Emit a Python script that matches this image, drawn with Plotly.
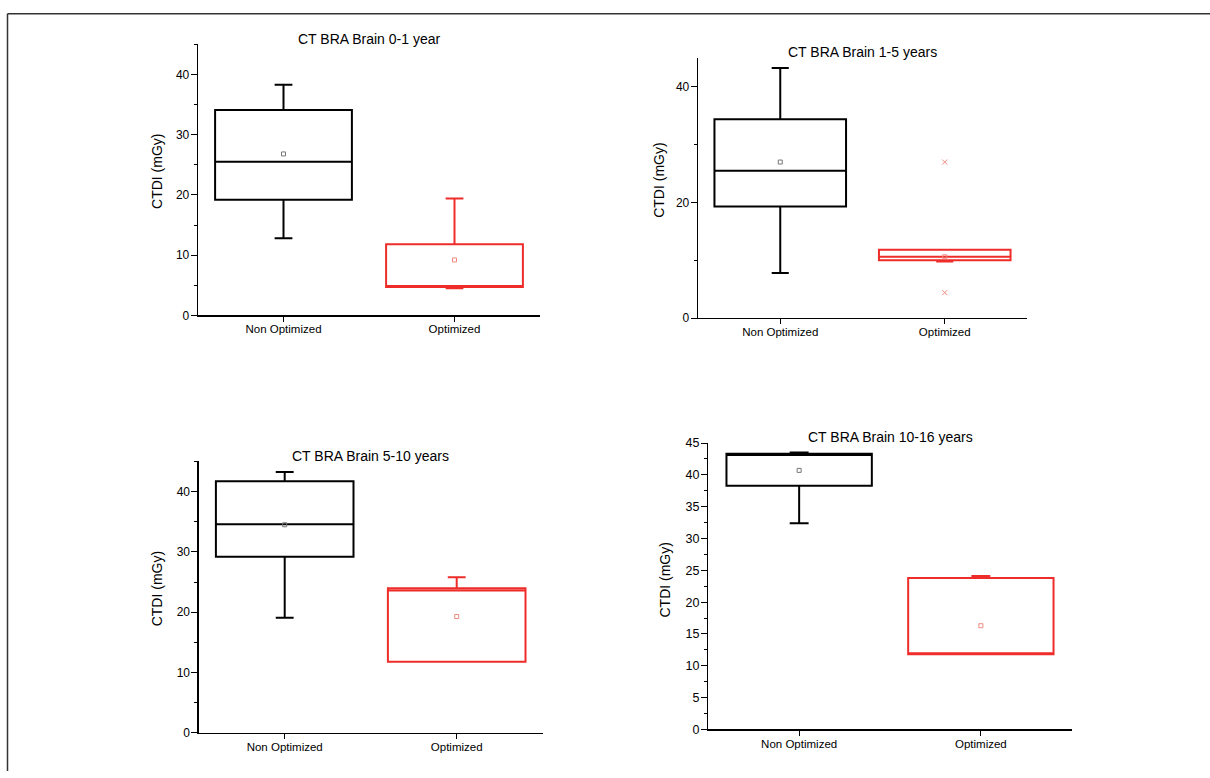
import plotly.graph_objects as go

W, H = 1210, 778

categories = ["Non Optimized", "Optimized"]
titles = ["CT BRA Brain 0-1 year", "CT BRA Brain 1-5 years",
          "CT BRA Brain 5-10 years", "CT BRA Brain 10-16 years"]

# per panel: [Non Optimized, Optimized]
lower_1 = [12.8, 4.5];  q1_1 = [19.2, 4.7];  med_1 = [25.5, 4.7];  q3_1 = [34.1, 11.8];  upper_1 = [38.3, 19.4];  mean_1 = [26.8, 9.2]
lower_2 = [7.8, 9.8];   q1_2 = [19.3, 10.0]; med_2 = [25.5, 10.6]; q3_2 = [34.4, 11.8];  upper_2 = [43.3, 11.8];  mean_2 = [27.0, 10.6]
lower_3 = [19.1, 11.8]; q1_3 = [29.2, 11.8]; med_3 = [34.6, 23.6]; q3_3 = [41.7, 24.0];  upper_3 = [43.25, 25.8]; mean_3 = [34.5, 19.3]
lower_4 = [32.4, 11.8]; q1_4 = [38.3, 11.8]; med_4 = [43.1, 11.8]; q3_4 = [43.3, 23.8];  upper_4 = [43.5, 24.1];  mean_4 = [40.7, 16.3]
outliers_2_opt = [27.0, 4.4]

panels = [
    (lower_1, q1_1, med_1, q3_1, upper_1, mean_1),
    (lower_2, q1_2, med_2, q3_2, upper_2, mean_2),
    (lower_3, q1_3, med_3, q3_3, upper_3, mean_3),
    (lower_4, q1_4, med_4, q3_4, upper_4, mean_4),
]

# pixel boxes of plot areas: (left, right, top, bottom)
px_boxes = [(198, 540, 38, 314), (698, 1027, 52, 316.7),
            (198.7, 542.7, 462.7, 739.3), (708.3, 1071.7, 444, 735.7)]
ydticks = [10, 20, 10, 5]
yminor = [5, 10, 5, 2.5]
ytick_size = [12, 12, 12, 12.5]
title_y = [33, 46, 457, 438]
ytitle_x = [157, 659, 157, 665]
ytitle_y = [168, 177, 593, 583]

colors = ["#000000", "#ee2d2a"]
mean_colors = ["#777777", "#f08a80"]
FONT = "Liberation Sans, Arial, sans-serif"

fig = go.Figure()
layout = dict(width=W, height=H, margin=dict(l=0, r=0, t=0, b=0),
              paper_bgcolor="white", plot_bgcolor="white", showlegend=False,
              font=dict(family=FONT, color="black"))
annotations = []

for i, (lo, q1, md, q3, up, mn) in enumerate(panels):
    n = "" if i == 0 else str(i + 1)
    xa, ya = "x" + n, "y" + n
    for j, cat in enumerate(categories):
        fig.add_trace(go.Box(
            x=[cat], q1=[q1[j]], median=[md[j]], q3=[q3[j]],
            lowerfence=[lo[j]], upperfence=[up[j]],
            width=0.8, whiskerwidth=0.13, boxpoints=False,
            line=dict(color=colors[j], width=2), fillcolor="white",
            xaxis=xa, yaxis=ya, hoverinfo="skip"))
        fig.add_trace(go.Scatter(
            x=[cat], y=[mn[j]], mode="markers",
            marker=dict(symbol="square-open", size=4, color=mean_colors[j], line=dict(width=1)),
            xaxis=xa, yaxis=ya, hoverinfo="skip"))
    if i == 1:
        fig.add_trace(go.Scatter(
            x=[categories[1]] * len(outliers_2_opt), y=outliers_2_opt, mode="markers",
            marker=dict(symbol="x-thin-open", size=5, color=mean_colors[1], line=dict(width=1, color=mean_colors[1])),
            xaxis=xa, yaxis=ya, hoverinfo="skip"))

    l, r, t, b = px_boxes[i]
    layout["xaxis" + n] = dict(
        domain=[l / W, r / W], anchor=ya, type="category",
        categoryorder="array", categoryarray=categories, range=[-0.5, 1.5],
        showline=True, linecolor="black", linewidth=1.3, showgrid=False, zeroline=False,
        ticks="outside", ticklen=5, tickwidth=1, tickcolor="black", ticklabelstandoff=-2,
        tickfont=dict(size=11.5, family=FONT, color="black"), fixedrange=True)
    layout["yaxis" + n] = dict(
        domain=[1 - b / H, 1 - t / H], anchor=xa, range=[0, 45],
        dtick=ydticks[i], tick0=0,
        showline=True, linecolor="black", linewidth=1.3, showgrid=False, zeroline=False,
        ticks="outside", ticklen=6, tickwidth=1, tickcolor="black", ticklabelstandoff=-1,
        minor=dict(dtick=yminor[i], tick0=0, ticks="outside", ticklen=3, tickwidth=1, tickcolor="black", showgrid=False),
        tickfont=dict(size=ytick_size[i], family=FONT, color="black"), fixedrange=True)
    annotations.append(dict(
        text=titles[i], x=(l + r) / 2 / W, y=1 - title_y[i] / H, xref="paper", yref="paper",
        showarrow=False, xanchor="center", yanchor="middle",
        font=dict(size=14, family=FONT, color="black")))
    annotations.append(dict(
        text="CTDI (mGy)", x=ytitle_x[i] / W, y=1 - ytitle_y[i] / H, xref="paper", yref="paper",
        showarrow=False, xanchor="center", yanchor="middle", textangle=-90,
        font=dict(size=14, family=FONT, color="black")))

layout["annotations"] = annotations
layout["shapes"] = [
    dict(type="line", xref="paper", yref="paper", x0=7.5 / W, x1=1.0, y0=1 - 7 / H, y1=1 - 7 / H,
         line=dict(color="#333333", width=1.5)),
    dict(type="line", xref="paper", yref="paper", x0=7.5 / W, x1=7.5 / W, y0=0, y1=1 - 7 / H,
         line=dict(color="#333333", width=1.5)),
]
fig.update_layout(**layout)
fig.write_html(
    "out.html",
    config={"displayModeBar": False, "staticPlot": True},
    post_script="document.body.style.margin='0';document.body.style.overflow='hidden';"
                "document.documentElement.style.overflow='hidden';",
)
